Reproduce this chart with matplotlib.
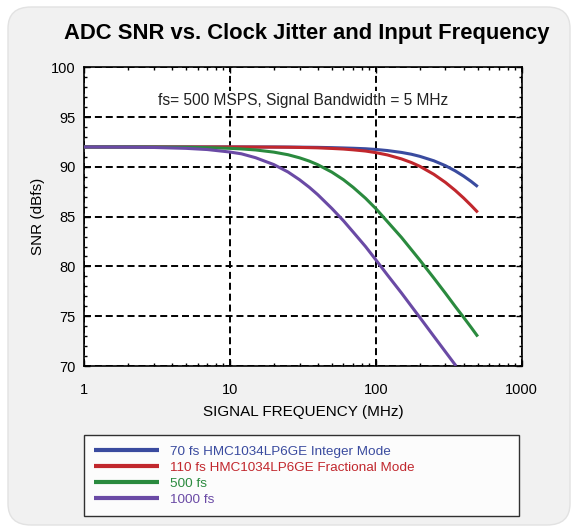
import matplotlib
matplotlib.use("Agg")
import matplotlib.pyplot as plt
from matplotlib.patches import FancyBboxPatch
from matplotlib.ticker import FixedLocator, MultipleLocator, NullFormatter

plt.rcParams['font.family'] = ['Liberation Sans', 'DejaVu Sans']

# ---- data ----
freq_common = [1, 2, 3, 5, 7, 10, 12, 15, 20, 25, 30, 35, 40, 50, 60, 70, 85, 100, 120, 150,
               175, 200, 250, 300, 350, 400, 450, 500]
snr_70fs = [92.0, 92.0, 92.0, 92.0, 92.0, 92.0, 92.0, 92.0, 92.0, 91.99, 91.98, 91.97, 91.96,
            91.93, 91.90, 91.87, 91.82, 91.75, 91.64, 91.45, 91.27, 91.06, 90.61, 90.12,
            89.60, 89.07, 88.54, 88.01]
snr_110fs = [92.0, 92.0, 92.0, 92.0, 92.0, 92.0, 92.0, 91.99, 91.98, 91.97, 91.95, 91.93, 91.91,
             91.85, 91.79, 91.71, 91.59, 91.43, 91.20, 90.80, 90.44, 90.06, 89.25, 88.44,
             87.64, 86.87, 86.13, 85.43]
snr_500fs = [92.0, 92.0, 91.99, 91.97, 91.93, 91.86, 91.80, 91.70, 91.48, 91.22, 90.91, 90.58,
             90.22, 89.47, 88.71, 87.94, 86.85, 85.81, 84.51, 82.91, 81.70, 80.65, 78.83, 77.31,
             75.99, 74.88, 73.88, 72.96]
freq_1000 = [1, 2, 3, 5, 7, 10, 12, 15, 20, 25, 30, 35, 40, 50, 60, 70, 85, 100, 120, 150, 175,
             200, 250, 300, 355]
snr_1000fs = [92.0, 91.98, 91.95, 91.86, 91.74, 91.49, 91.31, 90.92, 90.23, 89.49, 88.71, 87.95,
              87.21, 85.82, 84.59, 83.45, 82.00, 80.67, 79.15, 77.33, 76.02, 74.89, 72.98,
              71.43, 70.0]

labels = ["70 fs HMC1034LP6GE Integer Mode",
          "110 fs HMC1034LP6GE Fractional Mode",
          "500 fs",
          "1000 fs"]
colors = ["#3a4b9f", "#c1272d", "#2a8a3e", "#6a4aa5"]

x_ticks = [1, 10, 100, 1000]
x_ticklabels = ["1", "10", "100", "1000"]
y_ticks = [70, 75, 80, 85, 90, 95, 100]

title = "ADC SNR vs. Clock Jitter and Input Frequency"
annotation = "fs= 500 MSPS, Signal Bandwidth = 5 MHz"

# ---- figure ----
fig = plt.figure(figsize=(5.75, 5.31), dpi=100, facecolor="white")
card = FancyBboxPatch((8 / 575, 6 / 531), 562 / 575, 518 / 531,
                      boxstyle="round,pad=0,rounding_size=0.04",
                      transform=fig.transFigure, facecolor="#f1f1f1",
                      edgecolor="#e2e2e2", linewidth=1.0, zorder=-10)
fig.add_artist(card)

ax = fig.add_axes([84 / 575, 1 - 366 / 531, (521.7 - 84) / 575, (366 - 67.3) / 531])
ax.set_zorder(1)
ax.set_facecolor("white")

series = [(freq_common, snr_70fs), (freq_common, snr_110fs),
          (freq_common, snr_500fs), (freq_1000, snr_1000fs)]
for (fx, fy), lab, col in zip(series, labels, colors):
    ax.plot(fx, fy, color=col, lw=2.2, label=lab, solid_capstyle="butt",
            solid_joinstyle="round", zorder=3)

ax.set_xscale("log")
ax.set_xlim(1, 1000)
ax.set_ylim(70, 100)
ax.xaxis.set_major_locator(FixedLocator(x_ticks))
ax.set_xticklabels(x_ticklabels)
ax.xaxis.set_minor_locator(FixedLocator([m * d for d in (1, 10, 100) for m in range(2, 10)]))
ax.xaxis.set_minor_formatter(NullFormatter())
ax.yaxis.set_major_locator(FixedLocator(y_ticks))
ax.yaxis.set_minor_locator(MultipleLocator(1))

ax.tick_params(which="both", direction="in", top=True, right=True, labelsize=10.5,
               colors="black", pad=6)
ax.tick_params(which="major", length=4, width=1)
ax.tick_params(which="minor", length=2.5, width=1)
ax.tick_params(axis="x", pad=12)

ax.grid(True, which="major", color="black", linestyle=(0, (3.6, 2.0)), linewidth=1.4)
for s in ax.spines.values():
    s.set_linewidth(1.2)

ax.set_xlabel("SIGNAL FREQUENCY (MHz)", fontsize=11, labelpad=6)
ax.set_ylabel("SNR (dBfs)", fontsize=11, labelpad=4)

ax.text(0.5, 0.89, annotation, transform=ax.transAxes, ha="center", va="center",
        fontsize=11.2, color="#222222",
        bbox=dict(facecolor="white", edgecolor="none", pad=1))

fig.text(307 / 575, 1 - 33 / 531, title, ha="center", va="center",
         fontsize=15.8, fontweight="bold", color="black")

leg = ax.legend(loc="upper left",
                bbox_to_anchor=(84 / 575, 1 - 435 / 531, (519 - 84) / 575, 0.0),
                bbox_transform=fig.transFigure, mode="expand",
                fontsize=9.7, frameon=True, fancybox=False, edgecolor="black",
                handlelength=4.8, handletextpad=0.8, labelspacing=0.28,
                borderpad=0.75, borderaxespad=0, labelcolor="linecolor")
leg.get_frame().set_linewidth(1.0)
leg.get_frame().set_facecolor("white")
for line in leg.get_lines():
    line.set_linewidth(3.0)

fig.savefig("out.png", dpi=100, facecolor=fig.get_facecolor())
